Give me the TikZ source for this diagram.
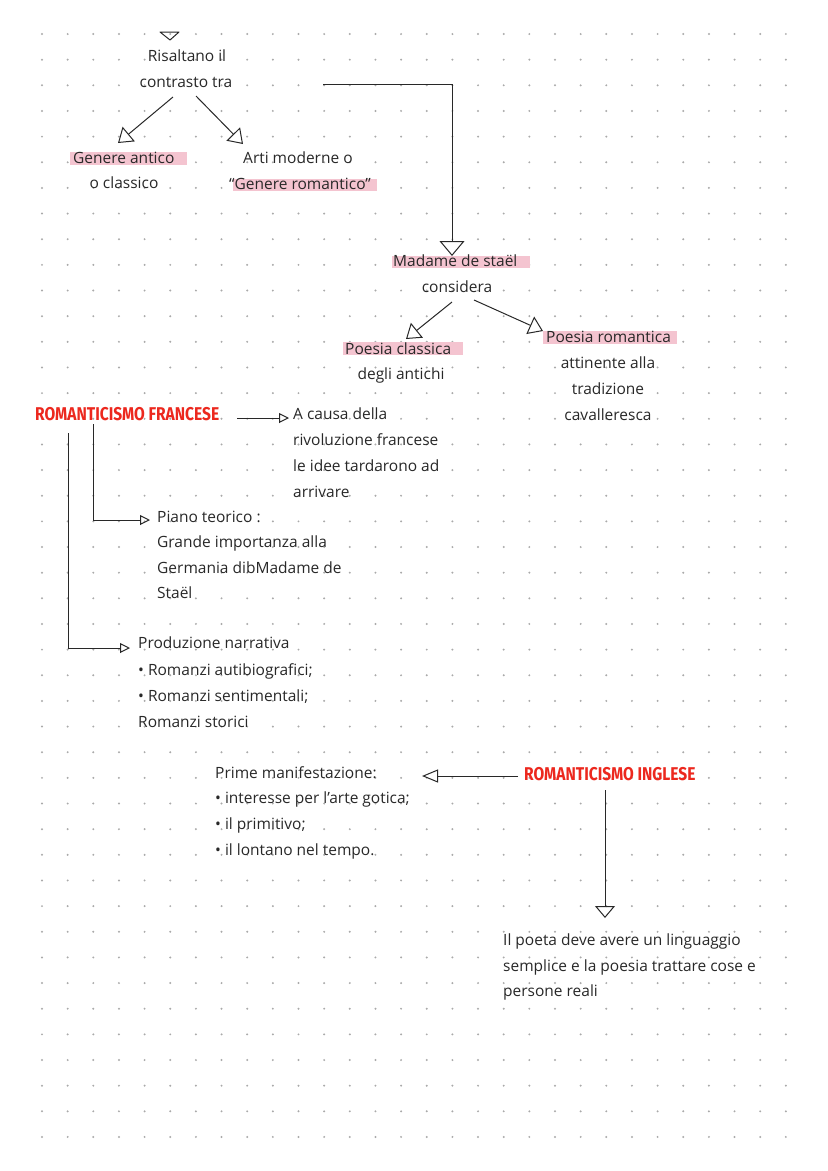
\documentclass[tikz,border=0pt]{standalone}
\usepackage{fontspec}
\setmainfont{Open Sans}
\newfontfamily\titlefont{Fira Sans}
\usetikzlibrary{arrows.meta}
\definecolor{ink}{RGB}{40,40,40}
\definecolor{hlpink}{RGB}{244,196,208}
\definecolor{titlered}{RGB}{236,40,30}
\definecolor{dotgray}{RGB}{170,170,170}
\tikzset{
  txt/.style={font=\fontsize{15.5}{18}\selectfont, text=ink, inner sep=0pt, anchor=base west},
  ctxt/.style={txt, anchor=base},
  ttl/.style={font=\titlefont\bfseries\fontsize{18.5}{20}\selectfont, text=titlered, inner sep=0pt, anchor=base west},
  conn/.style={draw=ink, line width=1pt},
  bighead/.style={-{Triangle[open, length=15pt, width=25pt]}},
  midhead/.style={-{Triangle[open, length=14pt, width=19pt]}},
  smallhead/.style={-{Triangle[open, length=10pt, width=10pt]}},
  hlband/.style={fill=hlpink},
}
\begin{document}
\begin{tikzpicture}[x=1pt,y=-1pt]
\useasboundingbox (0,0) rectangle (828,1171);
\fill[white] (0,0) rectangle (828,1171);
% dot grid
\foreach \i in {0,...,29}{
  \foreach \j in {0,...,43}{
    \fill[dotgray] ({42+25.65*\i},{34+25.65*\j}) circle (1.1pt);
  }
}
% highlights
\fill[hlband] (70,152) rectangle (187,165);
\fill[hlband] (233,179) rectangle (377,191);
\fill[hlband] (392,256) rectangle (530,268);
\fill[hlband] (343,342) rectangle (463,355);
\fill[hlband] (543,331) rectangle (677,344);

% top triangle (arrow end coming from above the page)
\draw[conn, line join=round] (160,32) -- (179,32) -- (170,40) -- cycle;

% texts
\node[ctxt] (ris1) at (187,61) {Risaltano il};
\node[ctxt] (ris2) at (186,87) {contrasto tra};
\node[txt] (gen1) at (73,163) {Genere antico};
\node[ctxt] (gen2) at (124,188) {o classico};
\node[txt] (arti1) at (243,163) {Arti moderne o};
\node[txt] (arti2) at (229,189) {“Genere romantico”};

\node[txt] (mad1) at (393,266) {Madame de staël};
\node[ctxt] (mad2) at (457,292) {considera};

\node[txt] (pc1) at (345,354) {Poesia classica};
\node[ctxt] (pc2) at (401,379) {degli antichi};

\node[txt] (pr1) at (546,342) {Poesia romantica};
\node[ctxt] (pr2) at (608,368) {attinente alla};
\node[ctxt] (pr3) at (608,394) {tradizione};
\node[ctxt] (pr4) at (608,420) {cavalleresca};

\node[ttl] (rf) at (35,420) {\scalebox{0.84}[1]{ROMANTICISMO FRANCESE}};
\node[txt] (ac1) at (293,419) {A causa della};
\node[txt] (ac2) at (293,445) {rivoluzione francese};
\node[txt] (ac3) at (293,471) {le idee tardarono ad};
\node[txt] (ac4) at (293,497) {arrivare};

\node[txt] (pt1) at (157,522) {Piano teorico :};
\node[txt] (pt2) at (157,547) {Grande importanza alla};
\node[txt] (pt3) at (157,573) {Germania dibMadame de};
\node[txt] (pt4) at (157,598) {Staël};

\node[txt] (pn1) at (138,648) {Produzione narrativa};
\node[txt] (pn2) at (138,675) {• Romanzi autibiografici;};
\node[txt] (pn3) at (138,701) {• Romanzi sentimentali;};
\node[txt] (pn4) at (138,727) {Romanzi storici};

\node[ttl] (ri) at (524,780) {\scalebox{0.84}[1]{ROMANTICISMO INGLESE}};
\node[txt] (pm1) at (215,778) {Prime manifestazione:};
\node[txt] (pm2) at (215,803) {• interesse per l'arte gotica;};
\node[txt] (pm3) at (215,829) {• il primitivo;};
\node[txt] (pm4) at (215,855) {• il lontano nel tempo.};

\node[txt] (ip1) at (503,945) {Il poeta deve avere un linguaggio};
\node[txt] (ip2) at (503,971) {semplice e la poesia trattare cose e};
\node[txt] (ip3) at (503,996) {persone reali};

% connector end points
\coordinate (c1a) at (173,97);  \coordinate (c1b) at (118,143);
\coordinate (c2a) at (196,96);  \coordinate (c2b) at (243,144);
\coordinate (c3a) at (323,84);  \coordinate (c3k) at (452,84);  \coordinate (c3b) at (452,256);
\coordinate (c4a) at (452,302); \coordinate (c4b) at (406,339);
\coordinate (c5a) at (474,300); \coordinate (c5b) at (543,331);
\coordinate (c6a) at (237,418); \coordinate (c6b) at (289,418);
\coordinate (c7a) at (93,424);  \coordinate (c7k) at (93,520);  \coordinate (c7b) at (150,520);
\coordinate (c8a) at (68,433);  \coordinate (c8k) at (68,648);  \coordinate (c8b) at (130,648);
\coordinate (c9a) at (518,776); \coordinate (c9b) at (422,776);
\coordinate (c10a) at (605,790); \coordinate (c10b) at (605,918);

% connectors
\draw[conn, midhead] (c1a) -- (c1b);
\draw[conn, midhead] (c2a) -- (c2b);
\draw[conn, bighead] (c3a) -- (c3k) -- (c3b);
\draw[conn, midhead] (c4a) -- (c4b);
\draw[conn, midhead] (c5a) -- (c5b);
\draw[conn, smallhead] (c6a) -- (c6b);
\draw[conn, smallhead] (c7a) -- (c7k) -- (c7b);
\draw[conn, smallhead] (c8a) -- (c8k) -- (c8b);
\draw[conn, -{Triangle[open, length=16pt, width=13pt]}] (c9a) -- (c9b);
\draw[conn, -{Triangle[open, length=12pt, width=20pt]}] (c10a) -- (c10b);
\end{tikzpicture}
\end{document}
